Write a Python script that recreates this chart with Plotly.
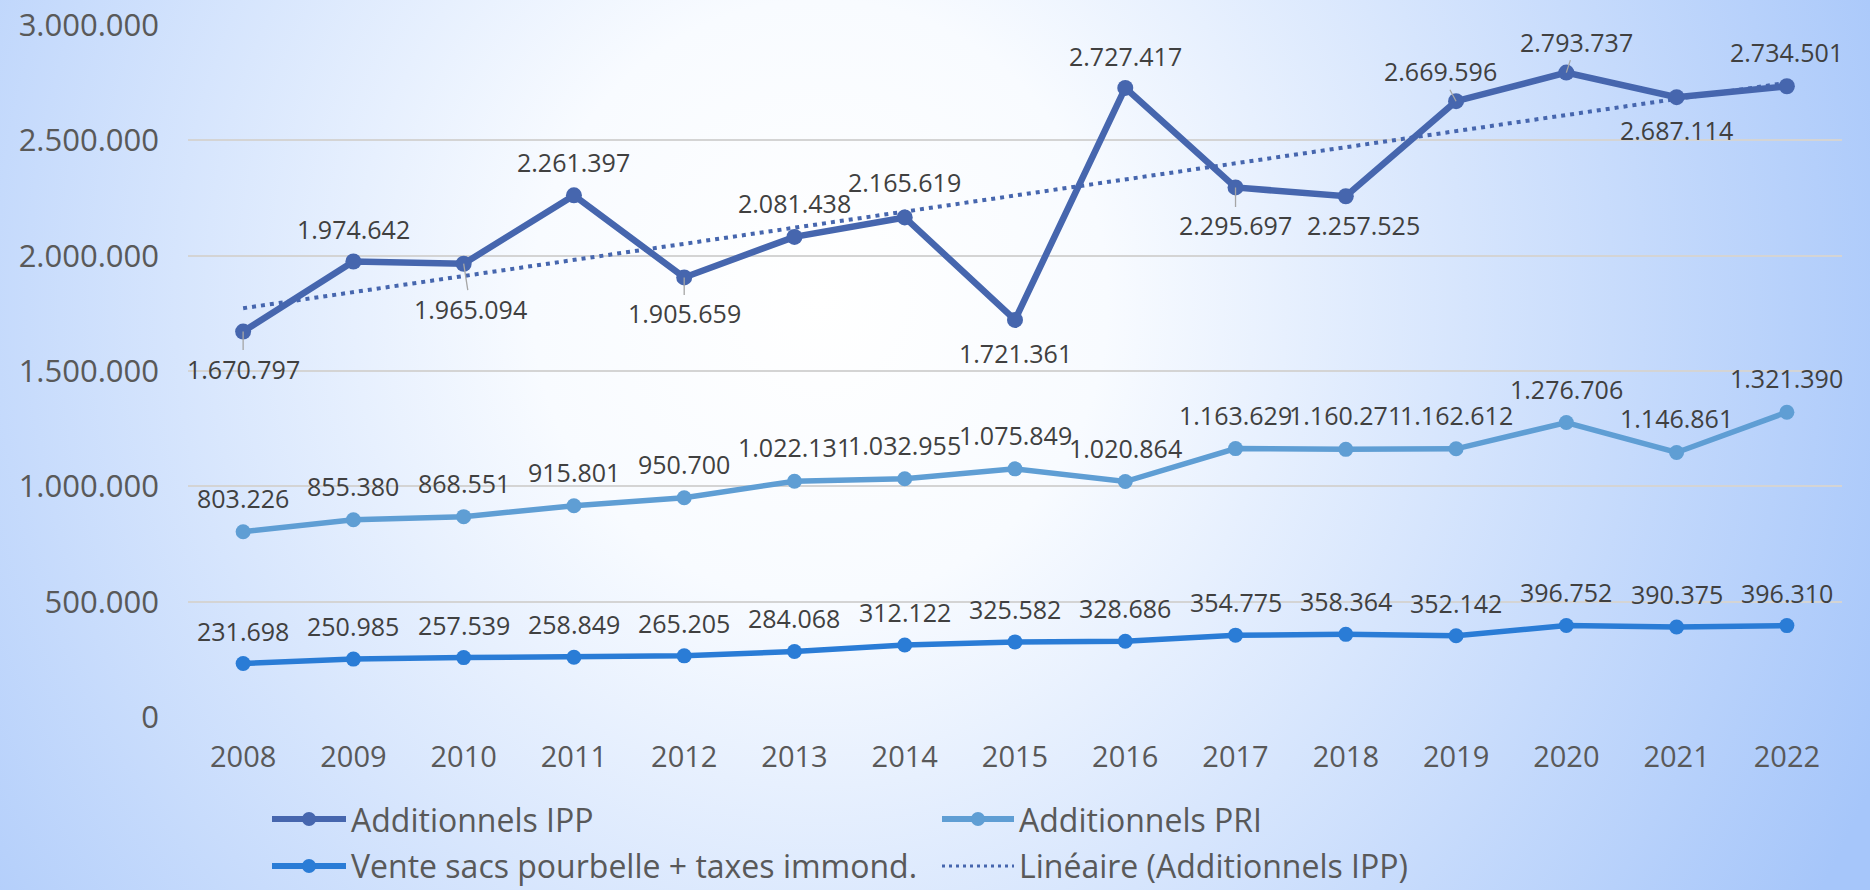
import base64
import numpy as np
import plotly.graph_objects as go

# ---------------- data ----------------
years = ["2008", "2009", "2010", "2011", "2012", "2013", "2014", "2015",
         "2016", "2017", "2018", "2019", "2020", "2021", "2022"]
ipp = [1670797, 1974642, 1965094, 2261397, 1905659, 2081438, 2165619, 1721361,
       2727417, 2295697, 2257525, 2669596, 2793737, 2687114, 2734501]
pri = [803226, 855380, 868551, 915801, 950700, 1022131, 1032955, 1075849,
       1020864, 1163629, 1160271, 1162612, 1276706, 1146861, 1321390]
vente = [231698, 250985, 257539, 258849, 265205, 284068, 312122, 325582,
         328686, 354775, 358364, 352142, 396752, 390375, 396310]
series_names = ["Additionnels IPP", "Additionnels PRI",
                "Vente sacs pourbelle + taxes immond.", "Linéaire (Additionnels IPP)"]
y_ticks = [0, 500000, 1000000, 1500000, 2000000, 2500000, 3000000]

# ---------------- style ----------------
C_IPP = "#4666AE"
C_PRI = "#5F9ED4"
C_VEN = "#2A7CD6"
FONT = "Open Sans"
W, H = 1870, 890
L, R, T, B = 188, 28, 25, 173
PW, PH = W - L - R, H - T - B

# linear trendline (Excel "Linéaire") fitted on the IPP series
xs = np.arange(len(years))
slope, intercept = np.polyfit(xs, ipp, 1)
trend = list(intercept + slope * xs)


def fmt(v):
    return f"{int(round(v)):,}".replace(",", ".")


def paper(xpx, ypx):
    return (xpx - L) / PW, (H - B - ypx) / PH


# ---------------- background gradient ----------------
EXT = 40  # extra px drawn around the figure so nothing is left uncovered
svg = (
    f'<svg xmlns="http://www.w3.org/2000/svg" width="{W + 2 * EXT}" height="{H + 2 * EXT}" '
    f'viewBox="{-EXT} {-EXT} {W + 2 * EXT} {H + 2 * EXT}" preserveAspectRatio="none">'
    '<defs><radialGradient id="g" gradientUnits="userSpaceOnUse" cx="0" cy="0" r="1" '
    'gradientTransform="translate(820,300) scale(1150,1200)">'
    '<stop offset="0" stop-color="#ffffff"/>'
    '<stop offset="0.25" stop-color="#f8fbff"/>'
    '<stop offset="1" stop-color="#a6c6fa"/>'
    '</radialGradient></defs>'
    f'<rect x="{-EXT}" y="{-EXT}" width="{W + 2 * EXT}" height="{H + 2 * EXT}" fill="url(#g)"/></svg>'
)
bg_src = "data:image/svg+xml;base64," + base64.b64encode(svg.encode()).decode()

fig = go.Figure()

fig.add_trace(go.Scatter(x=years, y=trend, mode="lines", name=series_names[3],
                         line=dict(color=C_IPP, width=4, dash="4px,5px"),
                         showlegend=False, hoverinfo="skip"))
fig.add_trace(go.Scatter(x=years, y=ipp, mode="lines+markers", name=series_names[0],
                         line=dict(color=C_IPP, width=6.5), marker=dict(size=16, color=C_IPP),
                         showlegend=False))
fig.add_trace(go.Scatter(x=years, y=pri, mode="lines+markers", name=series_names[1],
                         line=dict(color=C_PRI, width=5.5), marker=dict(size=15, color=C_PRI),
                         showlegend=False))
fig.add_trace(go.Scatter(x=years, y=vente, mode="lines+markers", name=series_names[2],
                         line=dict(color=C_VEN, width=5.5), marker=dict(size=15, color=C_VEN),
                         showlegend=False))

annotations = []
label_font = dict(family=FONT, size=25, color="#404040")

# label offsets (px, dy positive = downwards) and leader-line flags for IPP
ipp_off = [(0, 37), (0, -33), (7, 45), (0, -33), (0, 36), (0, -34), (0, -35), (0, 33),
           (0, -32), (0, 38), (18, 29), (-16, -30), (10, -31), (0, 33), (0, -34)]
ipp_lead = [True, False, True, False, True, False, False, False,
            False, True, False, True, True, False, False]


def add_labels(values, offsets, leaders):
    # category axis: annotations are placed on the category index scale
    for i, (v, (dx, dy), lead) in enumerate(zip(values, offsets, leaders)):
        if lead:
            annotations.append(dict(x=i, y=v, xref="x", yref="y", text=fmt(v),
                                    showarrow=True, arrowhead=0, arrowwidth=1.3,
                                    arrowcolor="#a6a6a6", ax=dx, ay=dy, standoff=0,
                                    font=label_font))
        else:
            annotations.append(dict(x=i, y=v, xref="x", yref="y", text=fmt(v),
                                    showarrow=False, xshift=dx, yshift=-dy,
                                    font=label_font))


add_labels(ipp, ipp_off, ipp_lead)
add_labels(pri, [(0, -34)] * len(years), [False] * len(years))
add_labels(vente, [(0, -33)] * len(years), [False] * len(years))

# ---------------- manual legend ----------------
shapes = []
legend_items = [
    (series_names[0], C_IPP, 272, 346, 819, "solid", True),
    (series_names[1], C_PRI, 942, 1014, 819, "solid", True),
    (series_names[2], C_VEN, 272, 346, 866, "solid", True),
    (series_names[3], C_IPP, 942, 1014, 866, "dot", False),
]
for name, col, x0, x1, yy, dash, mk in legend_items:
    px0, py = paper(x0, yy)
    px1, _ = paper(x1, yy)
    shapes.append(dict(type="line", xref="paper", yref="paper", x0=px0, x1=px1, y0=py, y1=py,
                       line=dict(color=col, width=6 if dash == "solid" else 3,
                                 dash=dash if dash == "solid" else "3px,4px")))
    if mk:
        cx, _ = paper((x0 + x1) / 2, yy)
        shapes.append(dict(type="circle", xref="paper", yref="paper",
                           xsizemode="pixel", ysizemode="pixel",
                           xanchor=cx, yanchor=py, x0=-7, x1=7, y0=-7, y1=7,
                           fillcolor=col, line=dict(width=0)))
    tx, _ = paper(x1 + 3, yy)
    annotations.append(dict(x=tx, y=py, xref="paper", yref="paper", text=name,
                            showarrow=False, xanchor="left", yanchor="middle",
                            font=dict(family=FONT, size=32, color="#595959")))

fig.update_layout(
    width=W, height=H, autosize=False,
    margin=dict(l=L, r=R, t=T, b=B, pad=0),
    paper_bgcolor="#dce8fd", plot_bgcolor="rgba(0,0,0,0)",
    separators=",.",
    font=dict(family=FONT, color="#595959"),
    showlegend=False,
    annotations=annotations,
    shapes=shapes,
    images=[dict(source=bg_src, xref="paper", yref="paper",
                 x=-(L + EXT) / PW, y=1 + (T + EXT) / PH,
                 sizex=(W + 2 * EXT) / PW, sizey=(H + 2 * EXT) / PH,
                 xanchor="left", yanchor="top", sizing="stretch", layer="below")],
    xaxis=dict(type="category", categoryorder="array", categoryarray=years,
               range=[-0.5, len(years) - 0.5], showgrid=False, zeroline=False,
               showline=False, ticks="", ticklabelstandoff=20, automargin=False,
               tickfont=dict(family=FONT, size=29, color="#595959")),
    yaxis=dict(range=[0, 3000000], tickvals=y_ticks, tickformat=",d",
               showgrid=True, gridcolor="#d4d4d4", gridwidth=2, zeroline=False,
               showline=False, ticks="", ticklabelstandoff=28, automargin=False,
               tickfont=dict(family=FONT, size=31, color="#595959")),
)

fig.write_html("out.html")
